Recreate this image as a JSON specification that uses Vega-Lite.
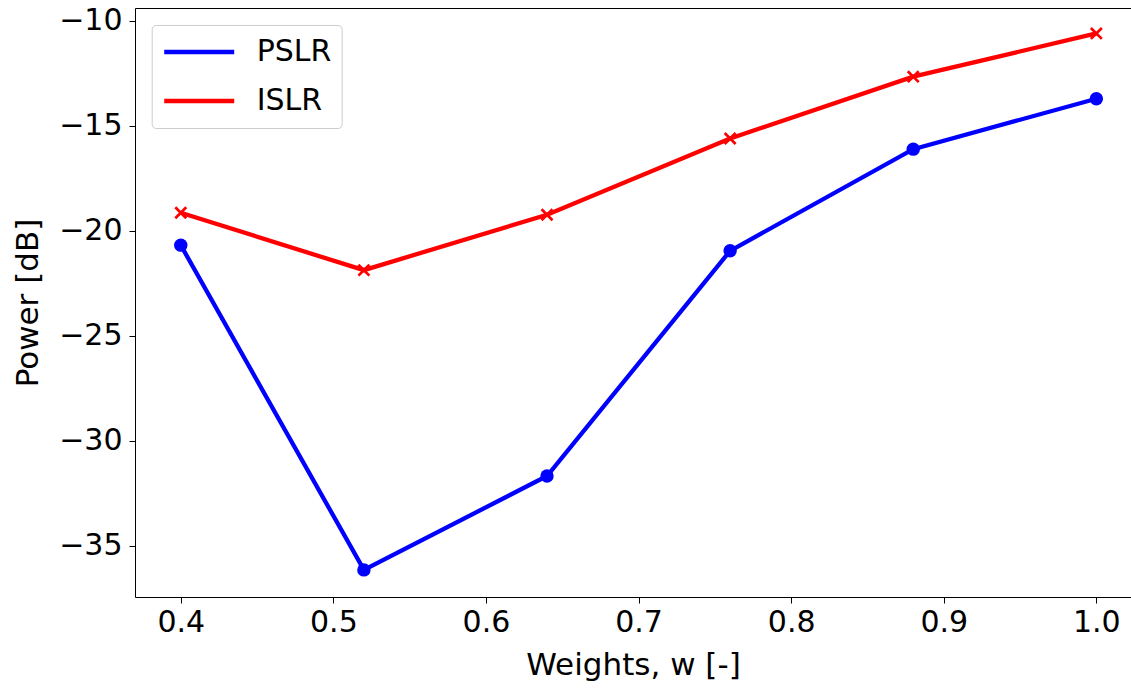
{
  "$schema": "https://vega.github.io/schema/vega-lite/v6.json",
  "width": 996,
  "height": 589,
  "autosize": {"type": "none"},
  "padding": {"left": 135, "top": 8, "right": 0, "bottom": 93},
  "background": "white",
  "config": {
    "font": "DejaVu Sans",
    "view": {"stroke": null},
    "axis": {
      "domainColor": "black",
      "domainWidth": 1,
      "tickColor": "black",
      "tickWidth": 1,
      "tickSize": 6,
      "labelFontSize": 30,
      "labelColor": "black",
      "titleFontSize": 31,
      "titleFontWeight": "normal",
      "titleColor": "black",
      "grid": false
    }
  },
  "data": {
    "values": [
      {"w": 0.4, "value": -20.68, "series": "PSLR"},
      {"w": 0.52, "value": -36.14, "series": "PSLR"},
      {"w": 0.64, "value": -31.67, "series": "PSLR"},
      {"w": 0.76, "value": -20.95, "series": "PSLR"},
      {"w": 0.88, "value": -16.11, "series": "PSLR"},
      {"w": 1.0, "value": -13.71, "series": "PSLR"},
      {"w": 0.4, "value": -19.14, "series": "ISLR"},
      {"w": 0.52, "value": -21.87, "series": "ISLR"},
      {"w": 0.64, "value": -19.23, "series": "ISLR"},
      {"w": 0.76, "value": -15.6, "series": "ISLR"},
      {"w": 0.88, "value": -12.66, "series": "ISLR"},
      {"w": 1.0, "value": -10.6, "series": "ISLR"}
    ]
  },
  "resolve": {"axis": {"x": "independent"}},
  "layer": [
    {
      "mark": {"type": "line", "strokeWidth": 4.3},
      "encoding": {
        "x": {
          "field": "w", "type": "quantitative",
          "scale": {"domain": [0.37, 1.0227], "nice": false, "zero": false},
          "axis": {"values": [0.4, 0.5, 0.6, 0.7, 0.8, 0.9, 1.0], "format": ".1f", "labelPadding": 4, "title": "Weights, w [-]", "titlePadding": 13, "orient": "bottom"}
        },
        "y": {
          "field": "value", "type": "quantitative",
          "scale": {"domain": [-37.43, -9.39], "nice": false, "zero": false},
          "axis": {"values": [-35, -30, -25, -20, -15, -10], "format": "d", "labelPadding": 7, "title": "Power [dB]", "titlePadding": 14}
        },
        "color": {
          "field": "series", "type": "nominal",
          "scale": {"domain": ["PSLR", "ISLR"], "range": ["#0000ff", "#ff0000"]},
          "legend": {
            "orient": "none", "legendX": 16.7, "legendY": 17, "title": null,
            "symbolType": "stroke", "symbolSize": 4900, "symbolStrokeWidth": 4.3,
            "clipHeight": 34, "rowPadding": 15, "padding": 10, "labelOffset": 20,
            "labelFontSize": 30, "labelColor": "black",
            "strokeColor": "#cccccc", "fillColor": "white", "cornerRadius": 4
          }
        }
      }
    },
    {
      "transform": [{"filter": "datum.series === 'PSLR'"}],
      "mark": {"type": "point", "shape": "circle", "filled": true, "size": 180, "color": "#0000ff", "opacity": 1},
      "encoding": {
        "x": {"field": "w", "type": "quantitative", "axis": null},
        "y": {"field": "value", "type": "quantitative"}
      }
    },
    {
      "transform": [{"filter": "datum.series === 'ISLR'"}],
      "mark": {"type": "point", "shape": "M-1,-1L1,1M1,-1L-1,1", "filled": false, "size": 120, "color": "#ff0000", "strokeWidth": 2.7, "opacity": 1},
      "encoding": {
        "x": {"field": "w", "type": "quantitative", "axis": null},
        "y": {"field": "value", "type": "quantitative"}
      }
    },
    {
      "mark": {"type": "point", "opacity": 0},
      "encoding": {
        "x": {"field": "w", "type": "quantitative", "axis": {"orient": "top", "labels": false, "ticks": false, "title": null, "domainColor": "black"}}
      }
    }
  ]
}
